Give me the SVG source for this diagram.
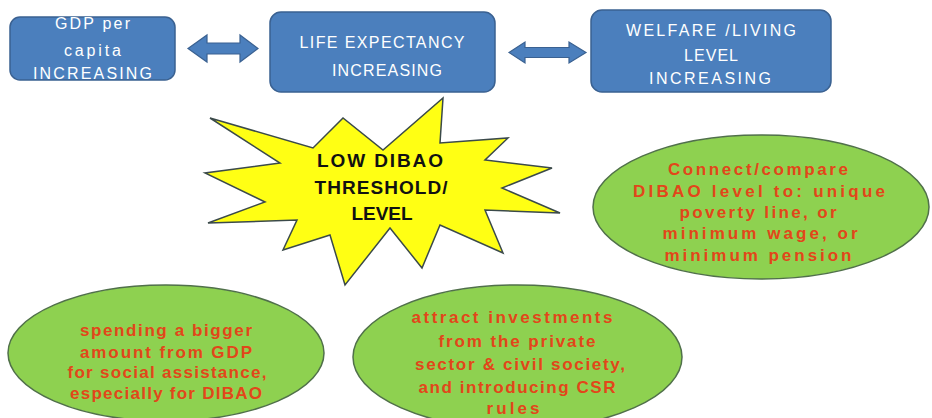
<svg xmlns="http://www.w3.org/2000/svg" width="932" height="418" viewBox="0 0 932 418">
<style>
.box{fill:#4b7fbd;stroke:#3a6191;stroke-width:1.5}
.btxt{fill:#ffffff;font-family:"Liberation Sans",Arial,sans-serif;font-size:16px;text-anchor:middle}
.ell{fill:#8ed150;stroke:#50704a;stroke-width:1.5}
.etxt{fill:#e2461a;font-family:"Liberation Sans",Arial,sans-serif;font-size:17px;font-weight:bold;text-anchor:middle}
.star{fill:#ffff14;stroke:#3b4a4a;stroke-width:1.5;stroke-linejoin:miter}
.stxt{fill:#111111;font-family:"Liberation Sans",Arial,sans-serif;font-size:19px;font-weight:bold;text-anchor:middle}
.arr{fill:#4b7fbd;stroke:#3a6191;stroke-width:1.2}
</style>
<rect width="932" height="418" fill="#ffffff"/>
<g id="connectors">
<path class="arr" d="M188,48.5 L207,35 L207,43 L240,43 L240,35 L258,48.5 L240,62 L240,54 L207,54 L207,62 Z"/>
<path class="arr" d="M509,52.5 L525,42 L525,47.5 L569,47.5 L569,42 L586,52.5 L569,63 L569,57.5 L525,57.5 L525,63 Z"/>
</g>
<g id="gdp">
<rect class="box" x="10" y="17" width="165" height="63" rx="10"/>
<text class="btxt" x="92.5" y="29" textLength="75">GDP per</text>
<text class="btxt" x="92.5" y="56" textLength="57">capita</text>
<text class="btxt" x="92.5" y="79" textLength="119">INCREASING</text>
</g>
<g id="life">
<rect class="box" x="270" y="12" width="225" height="80" rx="11"/>
<text class="btxt" x="382" y="48" textLength="165">LIFE EXPECTANCY</text>
<text class="btxt" x="387" y="76" textLength="110">INCREASING</text>
</g>
<g id="welfare">
<rect class="box" x="591" y="10" width="240" height="82" rx="11"/>
<text class="btxt" x="711" y="36" textLength="170">WELFARE /LIVING</text>
<text class="btxt" x="711" y="61" textLength="54">LEVEL</text>
<text class="btxt" x="710" y="84" textLength="122">INCREASING</text>
</g>
<g id="dibao">
<polygon class="star" points="210,118 313,148 343,118 383,150 443,98 440,143 508,138 485,160 552,168 502,188 560,213 485,210 503,253 440,225 422,268 390,228 345,285 330,235 283,250 297,220 208,223 265,202 205,173 280,163"/>
<text class="stxt" x="380" y="167" textLength="126">LOW DIBAO</text>
<text class="stxt" x="381" y="194" textLength="133">THRESHOLD/</text>
<text class="stxt" x="382" y="220" textLength="61">LEVEL</text>
</g>
<g id="compare">
<ellipse class="ell" cx="761" cy="207" rx="168" ry="72"/>
<text class="etxt" x="758" y="175" textLength="180">Connect/compare</text>
<text class="etxt" x="759" y="197" textLength="252">DIBAO level to: unique</text>
<text class="etxt" x="758" y="218" textLength="157">poverty line, or</text>
<text class="etxt" x="760" y="239" textLength="195">minimum wage, or</text>
<text class="etxt" x="758" y="261" textLength="187">minimum pension</text>
</g>
<g id="spending">
<ellipse class="ell" cx="166" cy="353" rx="158" ry="68"/>
<text class="etxt" x="166" y="336" textLength="172">spending a bigger</text>
<text class="etxt" x="166" y="358" textLength="172">amount from GDP</text>
<text class="etxt" x="167" y="378" textLength="199">for social assistance,</text>
<text class="etxt" x="166" y="399" textLength="192">especially for DIBAO</text>
</g>
<g id="invest">
<ellipse class="ell" cx="517.5" cy="357" rx="164.5" ry="72"/>
<text class="etxt" x="512" y="323" textLength="201">attract investments</text>
<text class="etxt" x="517" y="347" textLength="157">from the private</text>
<text class="etxt" x="520" y="370" textLength="210">sector &amp; civil society,</text>
<text class="etxt" x="517" y="393" textLength="197">and introducing CSR</text>
<text class="etxt" x="513" y="414" textLength="53">rules</text>
</g>
</svg>
